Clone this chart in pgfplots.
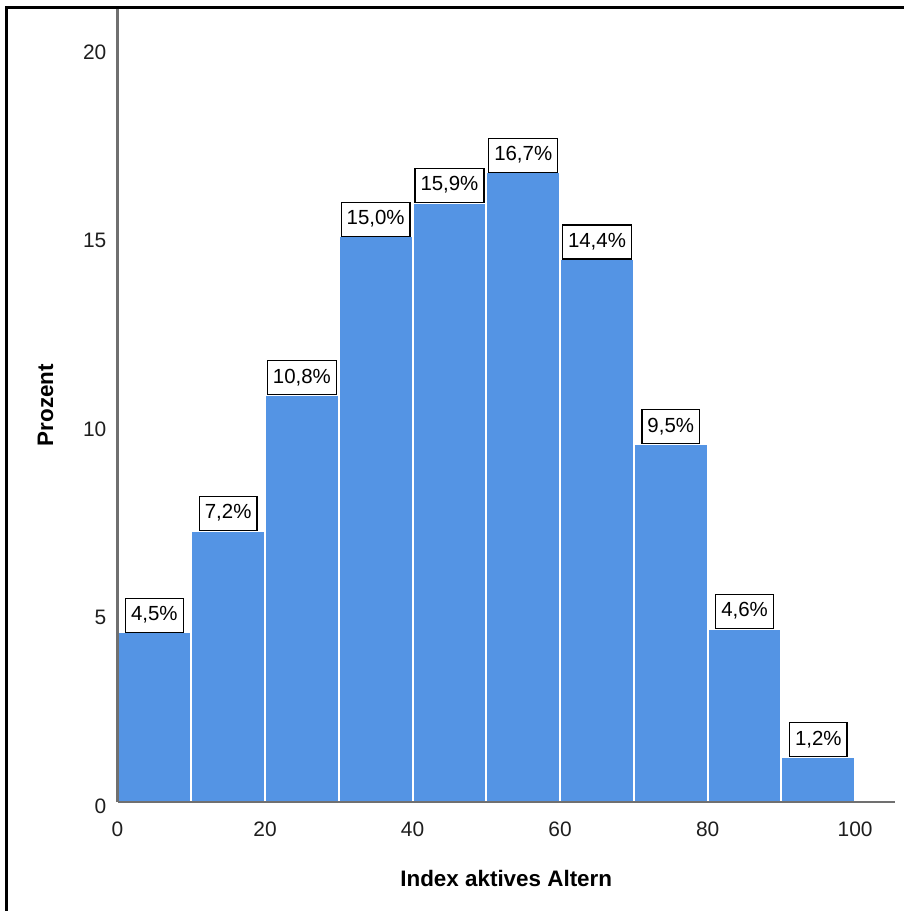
\documentclass[border=0pt]{standalone}
\usepackage{pgfplots}
\pgfplotsset{compat=1.18}
\usepackage{fontspec}
\setmainfont{Liberation Sans}
\definecolor{barblue}{RGB}{84,148,228}
\definecolor{axgray}{RGB}{112,112,112}
\definecolor{txt}{RGB}{30,30,30}
\begin{document}
\begin{tikzpicture}
\useasboundingbox (0,0) rectangle (904bp,911bp);
\fill[white] (0,0) rectangle (904bp,911bp);
\begin{axis}[
  at={(117.5bp,109bp)}, anchor=south west,
  scale only axis, width=777.5bp, height=794bp,
  xmin=0, xmax=105.4, ymin=0, ymax=21.06,
  axis x line=bottom, axis y line=left,
  axis line style={-, draw=axgray, line width=2.2bp},
  axis on top,
  major tick length=0pt,
  xtick={0,20,40,60,80,100},
  ytick={0,5,10,15,20},
  /pgf/number format/assume math mode=true,
  tick label style={font=\fontsize{21}{24}\selectfont, text=txt},
  yticklabel style={inner sep=0pt, anchor=east, xshift=-11bp, yshift=-4bp},
  xticklabel style={inner sep=0pt, anchor=north, yshift=-20bp},
  xlabel={Index aktives Altern},
  ylabel={Prozent},
  every axis x label/.style={at={([yshift=-76bp]rel axis cs:0.5,0)}, anchor=center, font=\bfseries\fontsize{22.5}{26}\selectfont},
  every axis y label/.style={at={([xshift=-72bp]rel axis cs:0,0.5)}, anchor=center, rotate=90, font=\bfseries\fontsize{22.5}{26}\selectfont},
]
\addplot[ybar, bar width=10, fill=barblue, draw=white, line width=2bp,
  point meta=y,
  nodes near coords={\pgfmathprintnumber[fixed, fixed zerofill, precision=1, use comma, assume math mode=true]{\pgfplotspointmeta}\%},
  every node near coord/.append style={anchor=south, draw=black, fill=white, line width=1.3bp,
    inner xsep=5.5bp, inner ysep=7.5bp, text height=15bp, text depth=4bp, yshift=-0.5bp,
    font=\fontsize{20.5}{24}\selectfont, text=black},
] coordinates {
(5,4.5) (15,7.2) (25,10.8) (35,15.0) (45,15.9) (55,16.7) (65,14.4) (75,9.5) (85,4.6) (95,1.2)
};
\end{axis}
\draw[black, line width=2.6bp] (6.5bp,0) -- (6.5bp,903.5bp) -- (904bp,903.5bp);
\end{tikzpicture}
\end{document}
